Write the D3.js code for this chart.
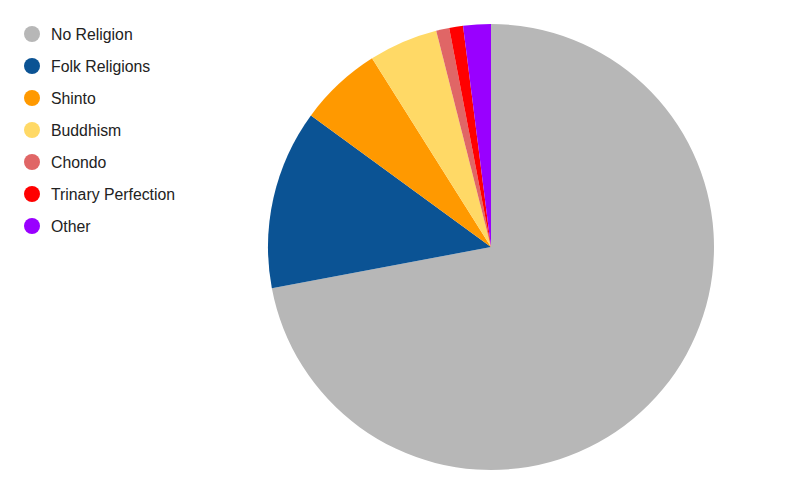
<!DOCTYPE html>
<html><head><meta charset="utf-8">
<script src="https://cdn.jsdelivr.net/npm/d3@7"></script>
<style>body{margin:0;background:#fff}svg{display:block}</style>
</head><body>
<svg id="c" width="800" height="495"></svg>
<script>
const categories = ["No Religion","Folk Religions","Shinto","Buddhism","Chondo","Trinary Perfection","Other"];
const values = [72, 13, 6, 5, 0.95, 1, 2];
const colors = ["#b7b7b7","#0b5394","#ff9900","#ffd966","#e06666","#ff0000","#9900ff"];

const svg = d3.select("#c");
const cx = 491, cy = 247, r = 223;
const data = categories.map((c,i)=>({name:c, value:values[i], color:colors[i]}));
const pie = d3.pie().sort(null).value(d=>d.value);
const arc = d3.arc().innerRadius(0).outerRadius(r);
svg.append("g").attr("transform",`translate(${cx},${cy})`)
  .selectAll("path").data(pie(data)).join("path")
  .attr("d",arc).attr("fill",d=>d.data.color);

const y = d3.scalePoint().domain(categories).range([34, 34+32*6]);
const lg = svg.append("g");
const items = lg.selectAll("g").data(data).join("g")
  .attr("transform",d=>`translate(0,${y(d.name)})`);
items.append("circle").attr("cx",32).attr("cy",0).attr("r",8).attr("fill",d=>d.color);
items.append("text").attr("x",51).attr("y",0).attr("dy","0.35em")
  .attr("font-family","Liberation Sans, Arial, sans-serif").attr("font-size",15.8)
  .attr("fill","#222").text(d=>d.name);
</script>
</body></html>
